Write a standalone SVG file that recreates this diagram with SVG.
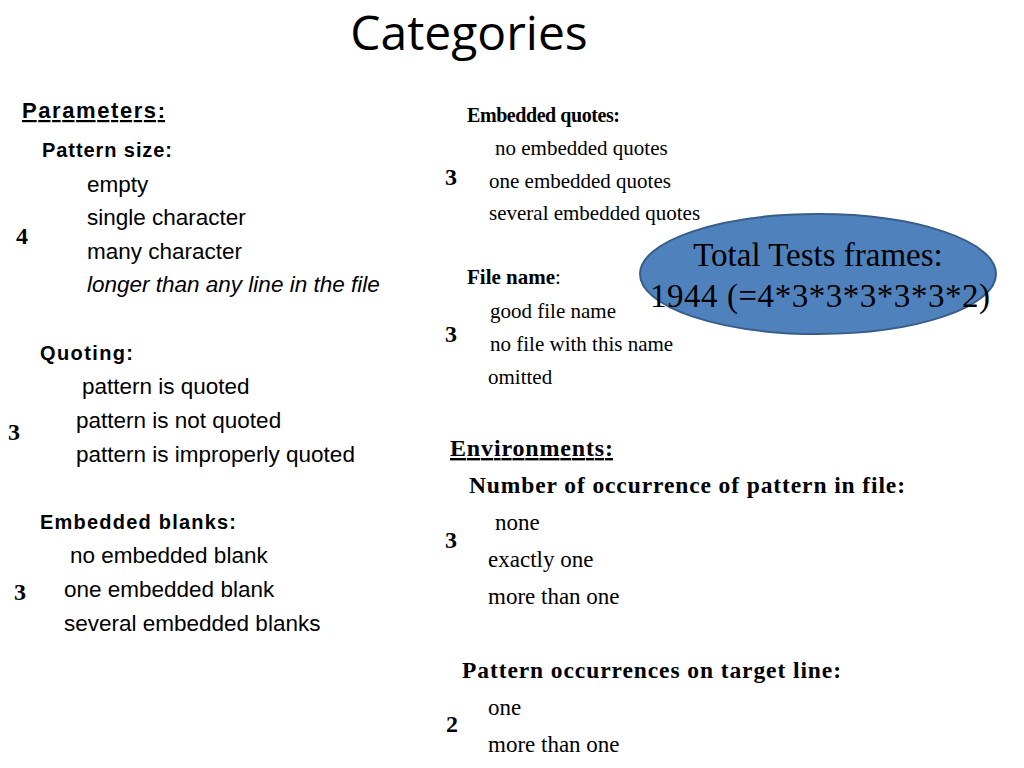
<svg xmlns="http://www.w3.org/2000/svg" width="1024" height="768" viewBox="0 0 1024 768">
<style>
.s{font-family:"Liberation Sans",Arial,sans-serif;font-size:22.5px;fill:#000}
.sb{font-family:"Liberation Sans",Arial,sans-serif;font-size:20px;font-weight:bold;fill:#000}
.r{font-family:"Liberation Serif","Times New Roman",serif;font-size:21px;fill:#000}
.r2{font-family:"Liberation Serif","Times New Roman",serif;font-size:23px;fill:#000}
.rb{font-family:"Liberation Serif","Times New Roman",serif;font-weight:bold;font-size:20px;fill:#000}
.n{font-family:"Liberation Serif","Times New Roman",serif;font-weight:bold;font-size:24px;fill:#000}
</style>
<rect width="1024" height="768" fill="#fff"/>
<text x="469" y="50" text-anchor="middle" style="font-family:'Open Sans','Liberation Sans',sans-serif;font-size:48px">Categories</text>
<g id="left">
<text x="22" y="118" class="sb" text-decoration="underline" style="font-size:22px" textLength="143">Parameters:</text>
<text x="42" y="157" class="sb" textLength="130">Pattern size:</text>
<text x="87" y="192" class="s">empty</text>
<text x="87" y="225" class="s">single character</text>
<text x="87" y="259" class="s">many character</text>
<text x="87" y="292" class="s" font-style="italic">longer than any line in the file</text>
<text x="16" y="244" class="n">4</text>
<text x="40" y="360" class="sb" textLength="93">Quoting:</text>
<text x="82" y="394" class="s">pattern is quoted</text>
<text x="76" y="428" class="s">pattern is not quoted</text>
<text x="76" y="462" class="s">pattern is improperly quoted</text>
<text x="8" y="440" class="n">3</text>
<text x="40" y="529" class="sb" textLength="196">Embedded blanks:</text>
<text x="70" y="563" class="s">no embedded blank</text>
<text x="64" y="597" class="s">one embedded blank</text>
<text x="64" y="631" class="s">several embedded blanks</text>
<text x="14" y="600" class="n">3</text>
</g>
<g id="right">
<text x="467" y="122" class="rb" textLength="153">Embedded quotes:</text>
<text x="495" y="155" class="r">no embedded quotes</text>
<text x="489" y="188" class="r">one embedded quotes</text>
<text x="489" y="220" class="r">several embedded quotes</text>
<text x="445" y="185" class="n">3</text>
<text x="467" y="284" class="r"><tspan font-weight="bold">File name</tspan>:</text>
<text x="490" y="318" class="r">good file name</text>
<text x="490" y="351" class="r">no file with this name</text>
<text x="488" y="384" class="r">omitted</text>
<text x="445" y="342" class="n">3</text>
<text x="450" y="456" class="rb" style="font-size:24px" text-decoration="underline" textLength="163">Environments:</text>
<text x="469" y="493" class="rb" style="font-size:23.5px" textLength="436">Number of occurrence of pattern in file:</text>
<text x="495" y="530" class="r2">none</text>
<text x="488" y="567" class="r2">exactly one</text>
<text x="488" y="604" class="r2">more than one</text>
<text x="445" y="548" class="n">3</text>
<text x="462" y="678" class="rb" style="font-size:23.5px" textLength="379">Pattern occurrences on target line:</text>
<text x="488" y="715" class="r2">one</text>
<text x="488" y="752" class="r2">more than one</text>
<text x="446" y="732" class="n">2</text>
</g>
<g id="total">
<ellipse cx="818" cy="274" rx="178" ry="60" fill="#4f81bd" stroke="#385d8a" stroke-width="2"/>
<text x="818" y="266" text-anchor="middle" style="font-family:'Liberation Serif',serif;font-size:33px">Total Tests frames:</text>
<text x="650" y="307" style="font-family:'Liberation Serif',serif;font-size:33px" textLength="340">1944 (=4*3*3*3*3*3*2)</text>
</g>
</svg>
